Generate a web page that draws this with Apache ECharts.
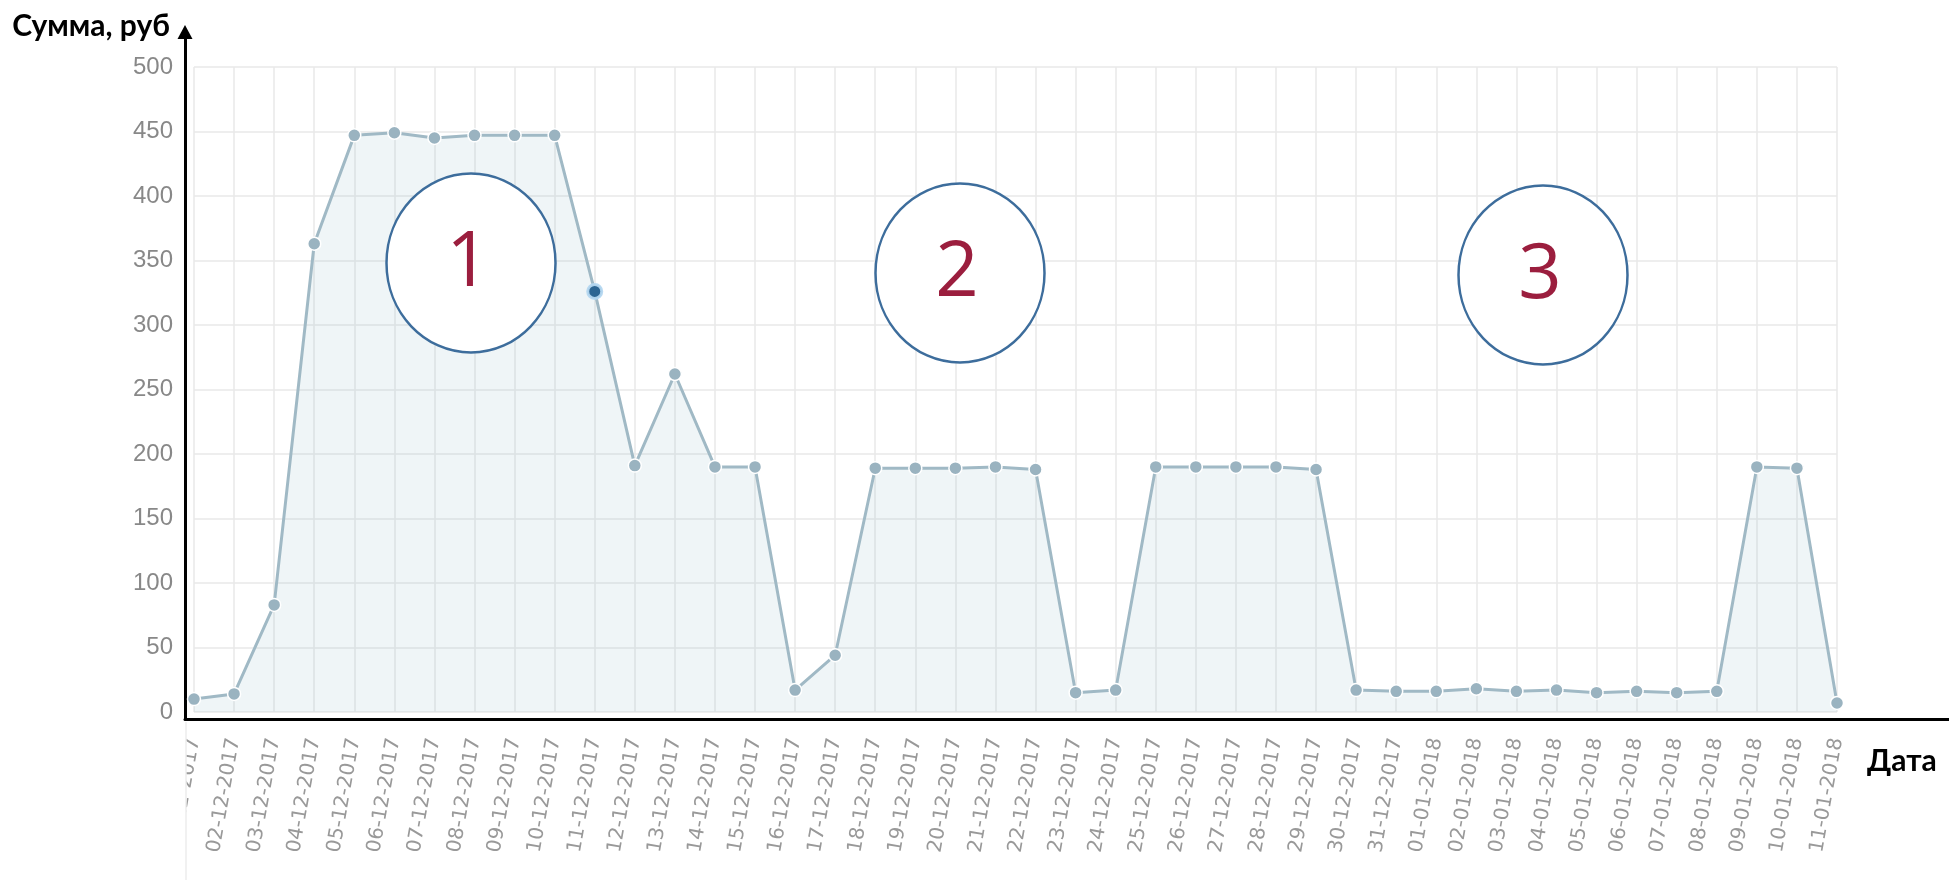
<!DOCTYPE html>
<html>
<head>
<meta charset="utf-8">
<script src="https://cdn.jsdelivr.net/npm/echarts@6/dist/echarts.min.js"></script>
<style>
  html, body { margin: 0; padding: 0; background: #fff; }
  #chart { width: 1949px; height: 880px; }
</style>
</head>
<body>
<div id="chart"></div>
<script>
// Daily amounts, December 2017 – January 2018
const dates = [
  '01-12-2017', '02-12-2017', '03-12-2017', '04-12-2017', '05-12-2017', '06-12-2017', '07-12-2017',
  '08-12-2017', '09-12-2017', '10-12-2017', '11-12-2017', '12-12-2017', '13-12-2017', '14-12-2017',
  '15-12-2017', '16-12-2017', '17-12-2017', '18-12-2017', '19-12-2017', '20-12-2017', '21-12-2017',
  '22-12-2017', '23-12-2017', '24-12-2017', '25-12-2017', '26-12-2017', '27-12-2017', '28-12-2017',
  '29-12-2017', '30-12-2017', '31-12-2017', '01-01-2018', '02-01-2018', '03-01-2018', '04-01-2018',
  '05-01-2018', '06-01-2018', '07-01-2018', '08-01-2018', '09-01-2018', '10-01-2018', '11-01-2018'
];
const amounts = [
  10, 14, 83, 363, 447, 449, 445, 447, 447, 447, 326, 191, 262, 190,
  190, 17, 44, 189, 189, 189, 190, 188, 15, 17, 190, 190, 190, 190,
  188, 17, 16, 16, 18, 16, 17, 15, 16, 15, 16, 190, 189, 7
];
// point shown in its hover state
const activeIndex = 10;
// value axis ticks
const yMin = 0, yMax = 500, yStep = 50;
// numbered period markers
const periodNames = ['1', '2', '3'];

const seriesData = amounts.map((v, i) => i === activeIndex
  ? { value: v, symbolSize: 14, itemStyle: { color: '#2c6592', borderColor: 'rgba(180,215,240,0.95)', borderWidth: 3 } }
  : v);

const markerFont = '76px "Open Sans", "Liberation Sans", sans-serif';
const markers = [
  { cx: 471, cy: 263 },
  { cx: 960, cy: 273 },
  { cx: 1543, cy: 275 }
];
const graphics = [];
markers.forEach((m, i) => {
  graphics.push({
    type: 'ellipse', z: 50,
    shape: { cx: m.cx, cy: m.cy, rx: 84.5, ry: 89.5 },
    style: { fill: '#fff', stroke: '#3d6d9c', lineWidth: 2.5 }
  });
  graphics.push({
    type: 'text', z: 51, x: m.cx - 3, y: m.cy + 1,
    style: { text: periodNames[i], font: markerFont, fill: '#9b1e3e', align: 'center', verticalAlign: 'middle' }
  });
});
// left edge of the plot frame trims the first date label
graphics.push({ type: 'rect', z: 40, shape: { x: 0, y: 722, width: 186, height: 158 }, style: { fill: '#fff' } });
graphics.push({ type: 'line', z: 41, shape: { x1: 186, y1: 722, x2: 186, y2: 880 }, style: { stroke: '#ececec', lineWidth: 1.5 } });

const chart = echarts.init(document.getElementById('chart'), null, { renderer: 'canvas' });
chart.setOption({
  animation: false,
  backgroundColor: '#fff',
  grid: [
    { left: 194, right: 112, top: 67, bottom: 168 },
    { left: 185, right: -20, top: 32, bottom: 161 }
  ],
  xAxis: [
    {
      type: 'category', gridIndex: 0, data: dates, boundaryGap: false,
      axisLine: { show: false }, axisTick: { show: false },
      axisLabel: {
        interval: 0, rotate: 80, margin: 26,
        color: '#999', fontSize: 20, fontFamily: '"DejaVu Sans", sans-serif'
      },
      splitLine: { show: true, interval: 0, lineStyle: { color: '#e8e8e8', width: 1.5 } }
    },
    {
      type: 'value', gridIndex: 1, min: 0, max: 1,
      axisLine: { show: true, onZero: false, lineStyle: { color: '#000', width: 3 } },
      axisTick: { show: false }, axisLabel: { show: false }, splitLine: { show: false },
      name: 'Дата', nameLocation: 'end', nameGap: -82,
      nameTextStyle: {
        color: '#000', fontSize: 30, fontWeight: 'bold', fontFamily: 'Lato, "Open Sans", sans-serif',
        align: 'left', verticalAlign: 'top', padding: [27, 0, 0, 0]
      }
    }
  ],
  yAxis: [
    {
      type: 'value', gridIndex: 0, min: yMin, max: yMax, interval: yStep,
      axisLine: { show: false }, axisTick: { show: false },
      axisLabel: { margin: 21, color: '#888', fontSize: 24, fontFamily: '"Liberation Sans", Arial, sans-serif' },
      splitLine: { show: true, lineStyle: { color: '#e8e8e8', width: 1.5 } }
    },
    {
      type: 'value', gridIndex: 1, min: 0, max: 1,
      axisLine: {
        show: true, onZero: false, symbol: ['none', 'triangle'], symbolSize: [15, 14],
        lineStyle: { color: '#000', width: 3 }
      },
      axisTick: { show: false }, axisLabel: { show: false }, splitLine: { show: false },
      name: 'Сумма, руб', nameLocation: 'end', nameGap: 6,
      nameTextStyle: {
        color: '#000', fontSize: 30, fontWeight: 'bold', fontFamily: 'Lato, "Open Sans", sans-serif',
        align: 'right', verticalAlign: 'middle', padding: [0, 15, 0, 0]
      }
    }
  ],
  series: [
    {
      type: 'line', xAxisIndex: 0, yAxisIndex: 0,
      data: seriesData,
      symbol: 'circle', symbolSize: 13, showAllSymbol: true, silent: true,
      lineStyle: { color: '#a0b9c5', width: 3 },
      itemStyle: { color: '#9ab3c0', borderColor: '#fff', borderWidth: 1.5 },
      areaStyle: { color: 'rgba(151,187,205,0.22)' }
    }
  ],
  graphic: graphics
});
</script>
</body>
</html>
